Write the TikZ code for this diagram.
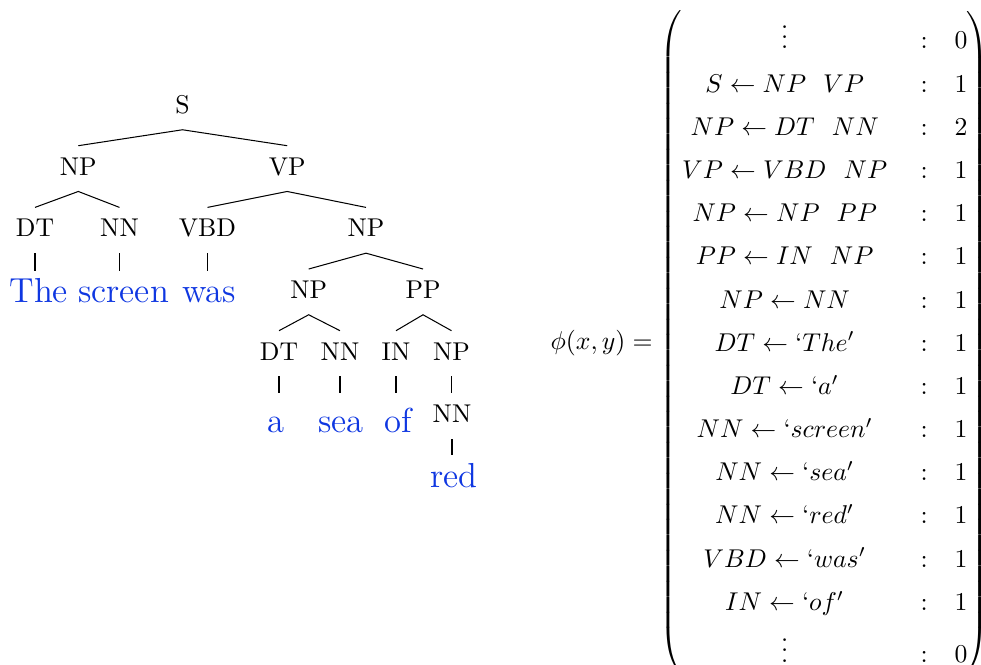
\documentclass[tikz,border=0pt]{standalone}
\definecolor{wordblue}{RGB}{15,55,225}
\tikzset{
  cat/.style={anchor=base, text height=8.4pt, text depth=3.4pt, inner sep=2.8pt, font=\fontsize{10}{12}\selectfont},
  word/.style={anchor=base, text=wordblue, text height=9.5pt, text depth=3pt, inner sep=2.8pt, font=\fontsize{13.5}{16}\selectfont},
  wordlow/.style={word, text height=12.1pt},
  branch/.style={line width=0.4pt},
}
\begin{document}
\begin{tikzpicture}[x=0.389pt, y=-0.389pt]
\useasboundingbox (0,0) rectangle (981,664);
% tree nodes
\node[cat] (S) at (182.5,113.3) {S};
\node[cat] (np1) at (78.3,175) {NP};
\node[cat] (vp) at (287.2,175) {VP};
\node[cat] (dt1) at (35,236.7) {DT};
\node[cat] (nn1) at (119.5,236.7) {NN};
\node[cat] (vbd) at (207.5,236.7) {VBD};
\node[cat] (np2) at (366,236.7) {NP};
\node[word] (wthe) at (38.8,302.7) {The};
\node[word] (wscreen) at (123.5,302.7) {screen};
\node[word] (wwas) at (209,302.7) {was};
\node[cat] (np3) at (308.7,298.3) {NP};
\node[cat] (pp) at (423,298.3) {PP};
\node[cat] (dt2) at (279,360) {DT};
\node[cat] (nn2) at (340,360) {NN};
\node[cat] (in) at (396,360) {IN};
\node[cat] (np4) at (451.5,360) {NP};
\node[wordlow] (wa) at (276,432.3) {a};
\node[wordlow] (wsea) at (341,432.3) {sea};
\node[wordlow] (wof) at (398,432.3) {of};
\node[cat] (nn3) at (452,422.7) {NN};
\node[word] (wred) at (454,487) {red};
% branches
\draw[branch] (np1.north) -- (S.south) -- (vp.north);
\draw[branch] (dt1.north) -- (np1.south) -- (nn1.north);
\draw[branch] (vbd.north) -- (vp.south) -- (np2.north);
\draw[branch] (np3.north) -- (np2.south) -- (pp.north);
\draw[branch] (dt2.north) -- (np3.south) -- (nn2.north);
\draw[branch] (in.north) -- (pp.south) -- (np4.north);
\draw[branch] (dt1.south) -- (dt1.south |- wthe.north);
\draw[branch] (nn1.south) -- (nn1.south |- wscreen.north);
\draw[branch] (vbd.south) -- (vbd.south |- wwas.north);
\draw[branch] (dt2.south) -- (dt2.south |- wa.north);
\draw[branch] (nn2.south) -- (nn2.south |- wsea.north);
\draw[branch] (in.south) -- (in.south |- wof.north);
\draw[branch] (np4.south) -- (np4.south |- nn3.north);
\draw[branch] (nn3.south) -- (nn3.south |- wred.north);
% feature vector
\node[anchor=base west, inner sep=0pt] (phi) at (550,349) {\renewcommand{\arraystretch}{1.4}%
$\phi(x,y) = \left(\begin{array}{@{}c@{\hspace{13pt}}c@{\hspace{10.5pt}}c@{\hspace{-0.6pt}}}
\vdots & : & 0\\
S \leftarrow NP\ \ VP & : & 1\\
NP \leftarrow DT\ \ NN & : & 2\\
VP \leftarrow VBD\ \ NP & : & 1\\
NP \leftarrow NP\ \ PP & : & 1\\
PP \leftarrow IN\ \ NP & : & 1\\
NP \leftarrow NN & : & 1\\
DT \leftarrow `The' & : & 1\\
DT \leftarrow `a' & : & 1\\
NN \leftarrow `screen' & : & 1\\
NN \leftarrow `sea' & : & 1\\
NN \leftarrow `red' & : & 1\\
VBD \leftarrow `was' & : & 1\\
IN \leftarrow `of' & : & 1\\
\vdots & : & 0
\end{array}\right)$};
\end{tikzpicture}
\end{document}
